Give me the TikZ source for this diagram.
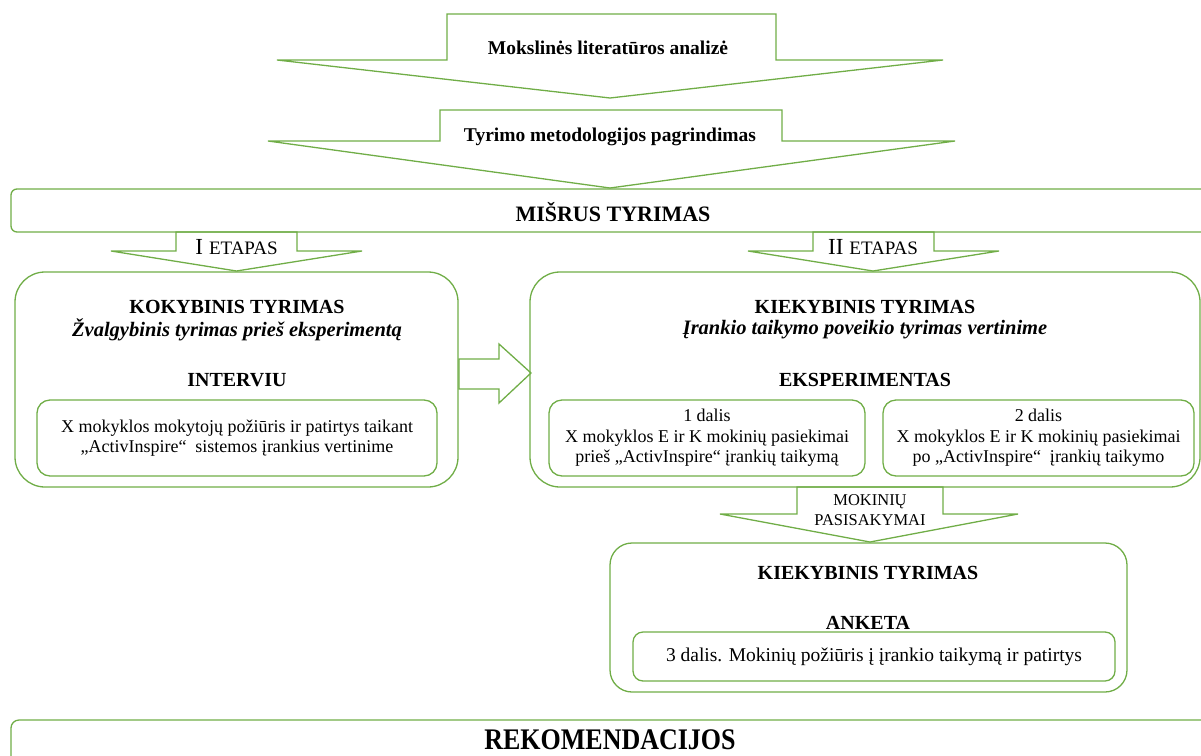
\documentclass[tikz,border=0pt]{standalone}
\usepackage{fontspec}
\setmainfont{Liberation Serif}
\definecolor{gr}{RGB}{112,173,71}
\newcommand\ft[2]{\fontsize{#1}{#2}\selectfont}
\tikzset{
  gline/.style={draw=gr, line width=1.3pt},
  gbox/.style={gline, inner sep=0pt, align=center},
  blk/.style={gline, line join=miter},
  ttl/.style={font=\ft{20}{23}\bfseries, inner sep=0pt},
  ittl/.style={font=\ft{20.5}{23}\bfseries\itshape, inner sep=0pt},
  body/.style={font=\ft{18}{20.5}},
}
\begin{document}
\begin{tikzpicture}[x=1pt,y=-1pt]
\useasboundingbox (0,0) rectangle (1201,755);
\clip (0,0) rectangle (1201,755);

% top block arrows
\draw[blk] (447,14) -- (776,14) -- (776,60) -- (943,60) -- (610,98) -- (277,60) -- (447,60) -- cycle;
\node[font=\ft{19.5}{22}\bfseries] (lit) at (608,48) {Mokslinės literatūros analizė};
\draw[blk] (440,110) -- (782,110) -- (782,141) -- (955,141) -- (610,188) -- (268,141) -- (440,141) -- cycle;
\node[font=\ft{19.5}{22}\bfseries] (met) at (610,137) {Tyrimo metodologijos pagrindimas};

% MISRUS TYRIMAS
\node[gbox, rounded corners=6pt, minimum width=1204pt, minimum height=43pt] (mis) at (613,210.5) {};
\node[font=\ft{22}{26}\bfseries] (mist) at (613,212) {MIŠRUS TYRIMAS};

% I ETAPAS
\draw[blk] (176,232) -- (297,232) -- (297,251) -- (362,251) -- (236.5,271) -- (111,251) -- (176,251) -- cycle;
\node (e1) at (236.5,247) {{\ft{23}{26}I}\hspace{6pt}{\ft{19}{22}ETAPAS}};
% II ETAPAS
\draw[blk] (813,232) -- (934,232) -- (934,251) -- (999,251) -- (873,271) -- (748,251) -- (813,251) -- cycle;
\node (e2) at (873,247) {{\ft{23}{26}II}\hspace{6pt}{\ft{19}{22}ETAPAS}};

% left box
\node[gbox, rounded corners=30pt, minimum width=443pt, minimum height=215pt] (kok) at (236.5,379.5) {};
\node[ttl] (kokt) at (237,307) {KOKYBINIS TYRIMAS};
\node[ittl] (koki) at (237,330) {Žvalgybinis tyrimas prieš eksperimentą};
\node[ttl] (int) at (237,380) {INTERVIU};
\node[gbox, body, rounded corners=13pt, minimum width=400pt, minimum height=76pt] (kokin) at (237,438)
  {X mokyklos mokytojų požiūris ir patirtys taikant\\„ActivInspire“\ \ sistemos įrankius vertinime};

% middle arrow
\draw[blk] (459,359) -- (499,359) -- (499,344) -- (531,373) -- (499,403) -- (499,389) -- (459,389) -- cycle;

% right box
\node[gbox, rounded corners=30pt, minimum width=670pt, minimum height=215pt] (kiek) at (865,379.5) {};
\node[ttl] (kiekt) at (865,307) {KIEKYBINIS TYRIMAS};
\node[ittl] (kieki) at (865,330) {Įrankio taikymo poveikio tyrimas vertinime};
\node[ttl] (eks) at (865,380) {EKSPERIMENTAS};
\node[gbox, body, rounded corners=13pt, minimum width=316pt, minimum height=76pt] (d1) at (707,438)
  {1 dalis\\X mokyklos E ir K mokinių pasiekimai\\prieš „ActivInspire“ įrankių taikymą};
\node[gbox, body, rounded corners=13pt, minimum width=311pt, minimum height=76pt] (d2) at (1038.5,438)
  {2 dalis\\X mokyklos E ir K mokinių pasiekimai\\po „ActivInspire“\ \ įrankių taikymo};

% MOKINIU PASISAKYMAI arrow
\draw[blk] (797,487) -- (943,487) -- (943,514) -- (1018,514) -- (870,542) -- (720,514) -- (797,514) -- cycle;
\node[align=center, font=\ft{16.5}{20}] (mp) at (870,510) {MOKINIŲ\\PASISAKYMAI};

% lower box
\node[gbox, rounded corners=22pt, minimum width=517pt, minimum height=149pt] (ank) at (868.5,617.5) {};
\node[ttl] (ankt) at (868,573) {KIEKYBINIS TYRIMAS};
\node[ttl] (anka) at (868,623) {ANKETA};
\node[gbox, font=\ft{19.5}{22}, rounded corners=10pt, minimum width=482pt, minimum height=49pt] (ankin) at (874,656.5)
  {3 dalis. Mokinių požiūris į įrankio taikymą ir patirtys};

% REKOMENDACIJOS
\node[gbox, rounded corners=8pt, minimum width=1204pt, minimum height=70pt] (rek) at (613,755) {};
\node[font=\ft{26}{30}\bfseries, inner sep=0pt] (rekt) at (610,740) {\scalebox{1}[1.15]{REKOMENDACIJOS}};
\end{tikzpicture}
\end{document}
